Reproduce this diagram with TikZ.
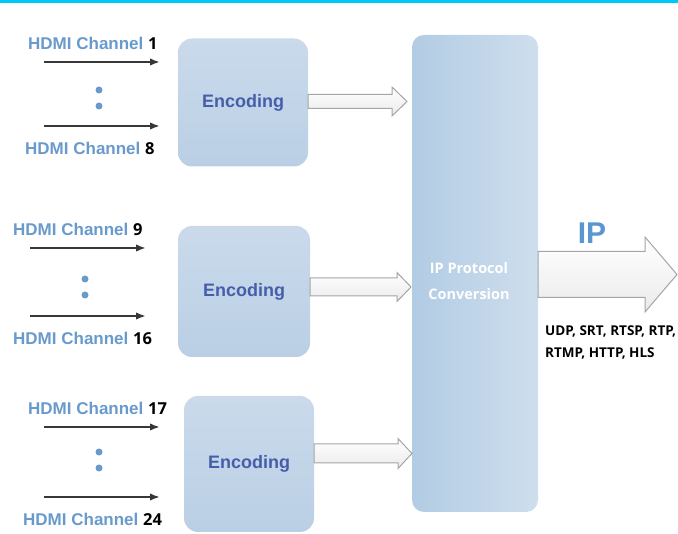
\documentclass[tikz,border=0pt]{standalone}
\usepackage{fontspec}
\setmainfont{Liberation Sans}
\newfontfamily\opensans{Open Sans}
\usetikzlibrary{calc,arrows.meta}

\definecolor{hdmiblue}{RGB}{104,154,204}
\definecolor{encblue}{RGB}{70,94,170}
\definecolor{boxtop}{RGB}{202,218,235}
\definecolor{boxbot}{RGB}{186,207,229}
\definecolor{ipleft}{RGB}{178,204,228}
\definecolor{ipright}{RGB}{206,222,237}
\definecolor{iplabel}{RGB}{90,150,208}
\definecolor{topline}{RGB}{0,200,245}
\definecolor{ingray}{RGB}{55,55,55}
\definecolor{fatedge}{RGB}{165,165,165}

% hollow arrow: from, to, shaft half, head half, head length
\newcommand{\fatarrow}[5]{%
  \draw[fatarr] ($(#1)+(0,-#3)$) -- ($(#2)+(-#5,-#3)$) -- ($(#2)+(-#5,-#4)$)
    -- (#2) -- ($(#2)+(-#5,#4)$) -- ($(#2)+(-#5,#3)$) -- ($(#1)+(0,#3)$) -- cycle;}

\begin{document}
\begin{tikzpicture}[x=1pt,y=-1pt,
    encbox/.style={rounded corners=14pt,top color=boxtop,bottom color=boxbot,
      minimum width=130pt,minimum height=128pt,inner sep=0pt,
      text=encblue,font=\fontsize{18}{20}\selectfont\bfseries},
    ipbox/.style={rounded corners=12pt,left color=ipleft,right color=ipright,
      minimum width=126pt,minimum height=477pt,inner sep=0pt},
    hdmi/.style={anchor=west,inner sep=0pt,text=hdmiblue,
      font=\fontsize{17}{20}\selectfont\bfseries},
    inarr/.style={-{Latex[length=10pt,width=7.5pt]},line width=2pt,draw=ingray},
    fatarr/.style={draw=fatedge,line width=1pt,top color=white,bottom color=black!8},
    dotc/.style={circle,fill=hdmiblue,inner sep=0pt,minimum size=7pt},
    proto/.style={anchor=west,inner sep=0pt,font=\opensans\fontsize{13.5}{15}\selectfont\bfseries}
  ]
    \useasboundingbox (0,0) rectangle (678,534);
    % Linea superior
    \fill[topline] (0,0) rectangle (678,3);

    % Cajas
    \node[encbox] (enc1) at (243,102.5) {Encoding};
    \node[encbox,minimum width=132pt,minimum height=131pt] (enc2) at (244,291.5) {Encoding};
    \node[encbox,minimum height=136pt] (enc3) at (249,464) {Encoding};
    \node[ipbox] (ip) at (475,273.5) {};
    \node[align=center,text=white,inner sep=0pt,
      font=\opensans\fontsize{14.5}{26}\selectfont\bfseries] (conv) at (469,281)
      {IP Protocol\\Conversion};

    % Entradas HDMI
    \foreach \g/\xa/\xb/\ya/\yb/\na/\nb/\la/\lb/\dy in
        {1/44/160/62/126/1/8/28/25/4,
         2/30/146/248/316/9/16/13/13/5,
         3/44/160/427/497/17/24/28/23/-2} {
        \coordinate (ia\g) at (\xa,\ya);
        \coordinate (ea\g) at (\xb,\ya);
        \coordinate (ib\g) at (\xa,\yb);
        \coordinate (eb\g) at (\xb,\yb);
        \draw[inarr] (ia\g) -- (ea\g);
        \draw[inarr] (ib\g) -- (eb\g);
        \node[hdmi] (ha\g) at (\la,\ya-19) {HDMI Channel \textcolor{black}{\opensans\fontsize{16.5}{20}\selectfont\na}};
        \node[hdmi] (hb\g) at (\lb,\yb+22) {HDMI Channel \textcolor{black}{\opensans\fontsize{16.5}{20}\selectfont\nb}};
        \path ($(ia\g)!0.5!(eb\g)$) coordinate (mid\g);
        \node[dotc] (da\g) at ($(mid\g)+(-3,\dy-8)$) {};
        \node[dotc] (db\g) at ($(mid\g)+(-3,\dy+8)$) {};
    }

    % Flechas a la conversion
    \coordinate (s1) at (enc1.east |- 0,101.5);
    \coordinate (t1) at (407,101.5);
    \coordinate (s2) at (enc2.east |- 0,287);
    \coordinate (t2) at (411,287);
    \coordinate (s3) at (enc3.east |- 0,453.5);
    \coordinate (t3) at (412,453.5);
    \fatarrow{s1}{t1}{7}{14.5}{15}
    \fatarrow{s2}{t2}{9}{14.5}{14}
    \fatarrow{s3}{t3}{9.5}{15}{14}

    % Salida IP
    \coordinate (so) at (ip.east |- 0,274.5);
    \coordinate (to) at (677,274.5);
    \fatarrow{so}{to}{23}{37.5}{32}
    \node[text=iplabel,inner sep=0pt,font=\fontsize{30}{32}\selectfont\bfseries] (iplbl) at (592,233) {IP};
    \node[proto] (pl1) at (545,331) {UDP, SRT, RTSP, RTP,};
    \node[proto] (pl2) at (545,353) {RTMP, HTTP, HLS};
\end{tikzpicture}
\end{document}
